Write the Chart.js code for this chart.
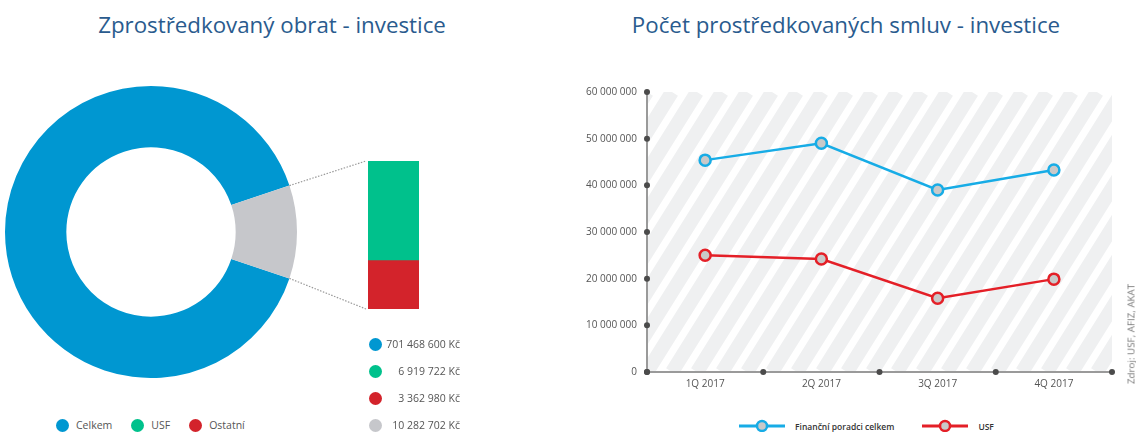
<!DOCTYPE html>
<html lang="cs">
<head>
<meta charset="utf-8">
<script src="https://cdn.jsdelivr.net/npm/chart.js@4.4.1/dist/chart.umd.min.js"></script>
<style>
  html, body { margin: 0; padding: 0; background: #fff; overflow: hidden; }
  body { width: 1136px; height: 432px; position: relative; font-family: "Open Sans", sans-serif; }
  canvas { position: absolute; }
  .title { position: absolute; top: 11px; font-size: 22.3px; line-height: 28px; color: #2a5b8e; white-space: nowrap; transform: translateX(-50%); }
  .dot { position: absolute; width: 13px; height: 13px; border-radius: 50%; }
  .val { position: absolute; right: 676px; font-size: 10.5px; line-height: 16px; color: #555; white-space: nowrap; }
  .legend { position: absolute; left: 56px; top: 418px; display: flex; align-items: center; font-size: 10.5px; color: #555; }
  .legend span { display: flex; align-items: center; margin-right: 19px; }
  .legend i { display: inline-block; width: 13px; height: 13px; border-radius: 50%; margin-right: 7px; }
  .lineLegend { position: absolute; left: 739px; top: 419px; display: flex; align-items: center; font-size: 8.5px; font-weight: 600; color: #333; }
  .lineLegend span { display: flex; align-items: center; margin-right: 28px; }
  .lineLegend canvas { position: static; margin-right: 10px; }
  .source { position: absolute; left: 1131px; top: 334px; transform: translate(-50%, -50%) rotate(-90deg); font-size: 9.8px; color: #777; white-space: nowrap; }
</style>
</head>
<body>
<div class="title" style="left:272px">Zprostředkovaný obrat - investice</div>
<div class="title" style="left:846px">Počet prostředkovaných smluv - investice</div>

<canvas id="ring" width="292" height="292" style="left:5px; top:86px"></canvas>
<canvas id="split" width="160" height="170" style="left:280px; top:150px"></canvas>
<canvas id="contracts" width="576" height="324" style="left:560px; top:70px"></canvas>

<div id="values"></div>
<div class="legend" id="ringLegend"></div>
<div class="lineLegend" id="lineLegend"></div>
<div class="source">Zdroj: USF, AFIZ, AKAT</div>

<script>
// Zprostředkovaný obrat (Kč)
const turnoverLabels = ["Celkem", "USF", "Ostatní"];
const turnover = [701468600, 6919722, 3362980];
const turnoverRest = 10282702; // USF + Ostatní, grey slice
// ring slice shares as drawn in the reference (the grey part is enlarged there)
const ringShares = [89.7, 10.3];

// Počet prostředkovaných smluv
const quarters = ["1Q 2017", "2Q 2017", "3Q 2017", "4Q 2017"];
const seriesNames = ["Finanční poradci celkem", "USF"];
const advisorsTotal = [45400000, 49000000, 39000000, 43300000];
const usfContracts = [25000000, 24200000, 15800000, 19900000];

const BLUE = "#0097d1";
const GREEN = "#00c18c";
const RED = "#d3232b";
const GREY = "#c6c7cb";
const LINE_BLUE = "#17ace6";
const LINE_RED = "#e41f27";

Chart.defaults.font.family = "'Open Sans', sans-serif";

function spaced(n) {
  return String(n).replace(/\B(?=(\d{3})+(?!\d))/g, " ");
}

// --- doughnut ---
const ringCanvas = document.getElementById("ring");
const ringChart = new Chart(ringCanvas, {
  type: "doughnut",
  data: {
    labels: ["Celkem", "USF + Ostatní"],
    datasets: [{
      data: ringShares,
      backgroundColor: [BLUE, GREY],
      borderWidth: 0,
    }],
  },
  options: {
    responsive: false,
    animation: false,
    events: [],
    cutout: "58%",
    rotation: -270 + 180 * ringShares[1] / 100,
    plugins: { legend: { display: false }, tooltip: { enabled: false } },
  },
});

// --- split bar with dotted connectors ---
const connectorPlugin = {
  id: "connector",
  afterDraw(chart) {
    const ctx = chart.ctx;
    const arc = ringChart.getDatasetMeta(0).data[1];
    const rb = ringCanvas.getBoundingClientRect();
    const bb = chart.canvas.getBoundingClientRect();
    const dx = rb.left - bb.left, dy = rb.top - bb.top;
    const topBar = chart.getDatasetMeta(1).data[0];
    const lowBar = chart.getDatasetMeta(0).data[0];
    const barLeft = topBar.x - topBar.width / 2;
    const ends = [[arc.startAngle, topBar.y], [arc.endAngle, lowBar.base]];
    ctx.save();
    ctx.setLineDash([1.5, 1.5]);
    ctx.strokeStyle = "#9a9a9a";
    ctx.lineWidth = 1.2;
    ends.forEach(([a, y]) => {
      ctx.beginPath();
      ctx.moveTo(arc.x + dx + Math.cos(a) * arc.outerRadius, arc.y + dy + Math.sin(a) * arc.outerRadius);
      ctx.lineTo(barLeft - 2, y);
      ctx.stroke();
    });
    ctx.restore();
  },
};

new Chart(document.getElementById("split"), {
  type: "bar",
  data: {
    labels: ["USF + Ostatní"],
    datasets: [
      { label: turnoverLabels[2], data: [turnover[2]], backgroundColor: RED },
      { label: turnoverLabels[1], data: [turnover[1]], backgroundColor: GREEN },
    ],
  },
  options: {
    responsive: false,
    animation: false,
    events: [],
    layout: { padding: { left: 88, right: 21, top: 11, bottom: 11 } },
    datasets: { bar: { barPercentage: 1, categoryPercentage: 1, borderWidth: 0 } },
    scales: {
      x: { stacked: true, display: false },
      y: { stacked: true, display: false, min: 0, max: turnoverRest },
    },
    plugins: { legend: { display: false }, tooltip: { enabled: false } },
  },
  plugins: [connectorPlugin],
});

// value list + legend (html)
const valueRows = [
  [BLUE, turnover[0]],
  [GREEN, turnover[1]],
  [RED, turnover[2]],
  [GREY, turnoverRest],
];
const valuesBox = document.getElementById("values");
valueRows.forEach(([color, v], i) => {
  const y = 344 + i * 27;
  valuesBox.insertAdjacentHTML("beforeend",
    `<div class="dot" style="left:369px;top:${y - 6}px;background:${color}"></div>` +
    `<div class="val" style="top:${y - 8}px">${spaced(v)} Kč</div>`);
});
const legendBox = document.getElementById("ringLegend");
[BLUE, GREEN, RED].forEach((color, i) => {
  legendBox.insertAdjacentHTML("beforeend", `<span><i style="background:${color}"></i>${turnoverLabels[i]}</span>`);
});

// --- line chart ---
const seriesColors = [LINE_BLUE, LINE_RED];

function legendMarker(color) {
  const c = document.createElement("canvas");
  c.width = 46; c.height = 14;
  const g = c.getContext("2d");
  g.strokeStyle = color;
  g.lineWidth = 3;
  g.beginPath(); g.moveTo(0, 7); g.lineTo(46, 7); g.stroke();
  g.beginPath(); g.arc(23, 7, 5, 0, Math.PI * 2);
  g.fillStyle = "#c9c9c9"; g.fill();
  g.lineWidth = 2.5; g.stroke();
  return c;
}

const lineLegend = document.getElementById("lineLegend");
seriesNames.forEach((name, i) => {
  const item = document.createElement("span");
  item.appendChild(legendMarker(seriesColors[i]));
  item.appendChild(document.createTextNode(name));
  lineLegend.appendChild(item);
});

const hatchPlugin = {
  id: "hatch",
  beforeDraw(chart) {
    const { ctx, chartArea: { left, top, right, bottom } } = chart;
    const run = (bottom - top) / Math.tan(58 * Math.PI / 180);
    ctx.save();
    ctx.beginPath();
    ctx.rect(left, top, right - left, bottom - top);
    ctx.clip();
    ctx.strokeStyle = "#eff0f1";
    ctx.lineWidth = 14;
    ctx.beginPath();
    for (let x = left - run - 25; x < right + 25; x += 25) {
      ctx.moveTo(x, bottom);
      ctx.lineTo(x + run, top);
    }
    ctx.stroke();
    ctx.restore();
  },
};

const axisDotsPlugin = {
  id: "axisDots",
  afterDatasetsDraw(chart) {
    const { ctx, scales: { x, y } } = chart;
    ctx.save();
    ctx.fillStyle = "#4b4b4b";
    y.ticks.forEach((t) => {
      ctx.beginPath();
      ctx.arc(x.left, y.getPixelForValue(t.value), 3, 0, Math.PI * 2);
      ctx.fill();
    });
    const n = chart.data.labels.length;
    for (let i = 0; i <= n; i++) {
      ctx.beginPath();
      ctx.arc(x.left + i * x.width / n, y.bottom, 3, 0, Math.PI * 2);
      ctx.fill();
    }
    ctx.restore();
  },
};

new Chart(document.getElementById("contracts"), {
  type: "line",
  data: {
    labels: quarters,
    datasets: [advisorsTotal, usfContracts].map((values, i) => ({
      label: seriesNames[i],
      data: values,
      borderColor: seriesColors[i],
      borderWidth: 2.5,
      tension: 0,
      pointRadius: 5.5,
      pointBorderWidth: 2.5,
      pointBackgroundColor: "#c9c9c9",
      pointBorderColor: seriesColors[i],
    })),
  },
  options: {
    responsive: false,
    animation: false,
    events: [],
    layout: { padding: { left: 0, right: 24, top: 22, bottom: 0 } },
    plugins: {
      tooltip: { enabled: false },
      legend: { display: false },
    },
    scales: {
      x: {
        offset: true,
        grid: { offset: true, drawOnChartArea: false, drawTicks: false },
        border: { color: "#9a9a9a", width: 2 },
        ticks: { color: "#555", font: { size: 10 }, padding: 6 },
        afterFit: (s) => { s.height = 22; },
      },
      y: {
        min: 0,
        max: 60000000,
        grid: { drawOnChartArea: false, drawTicks: false },
        border: { color: "#9a9a9a", width: 2 },
        ticks: { stepSize: 10000000, color: "#555", font: { size: 10 }, padding: 10, callback: (v) => spaced(v) },
        afterFit: (s) => { s.width = 87; },
      },
    },
  },
  plugins: [hatchPlugin, axisDotsPlugin],
});
</script>
</body>
</html>
